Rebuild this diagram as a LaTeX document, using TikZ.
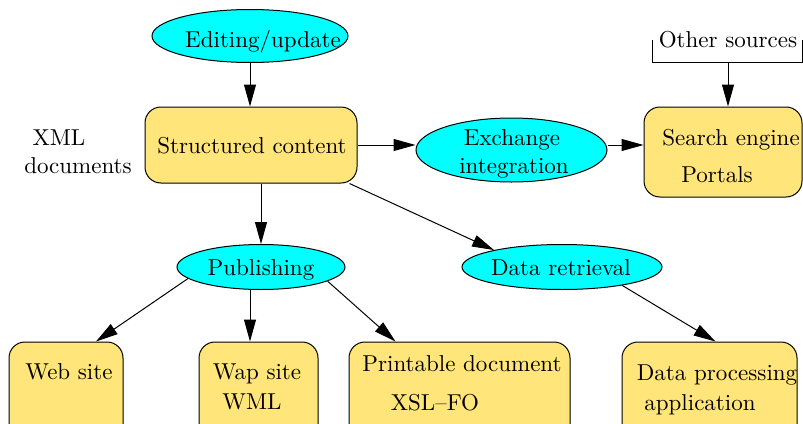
\documentclass[tikz,border=0pt]{standalone}
\usepackage{fontspec}
\newfontfamily\diagfont{lmroman10-regular.otf}[Ligatures=TeX]
\usetikzlibrary{shapes.geometric,arrows.meta}
\definecolor{boxyellow}{RGB}{255,229,122}
\definecolor{ellcyan}{RGB}{0,255,255}
\begin{document}
\begin{tikzpicture}[x=1pt,y=-1pt,
  box/.style={draw=black, line width=1pt, fill=boxyellow, rounded corners=16pt, inner sep=0pt},
  ell/.style={ellipse, draw=black, line width=1pt, fill=ellcyan, inner sep=0pt},
  txt/.style={anchor=base, inner sep=0pt, font=\diagfont\fontsize{23}{28}\selectfont},
  arr/.style={-{Triangle[length=22pt,width=12pt]}, line width=1pt}]
\useasboundingbox (0,0) rectangle (803,423);
\clip (0,0) rectangle (803,423);

% shapes
\node[ell, minimum width=196pt, minimum height=53pt] (edit) at (250,36) {};
\node[box, minimum width=212pt, minimum height=76pt] (sc) at (251,145) {};
\node[ell, minimum width=191pt, minimum height=64pt] (exch) at (511.5,150) {};
\node[box, minimum width=158pt, minimum height=90pt] (search) at (723,152) {};
\node[ell, minimum width=168pt, minimum height=45pt] (pub) at (261,267) {};
\node[ell, minimum width=200pt, minimum height=45pt] (dr) at (562,267) {};
\node[box, minimum width=114pt, minimum height=100pt] (web) at (66,392) {};
\node[box, minimum width=119pt, minimum height=100pt] (wap) at (258.5,392) {};
\node[box, minimum width=221pt, minimum height=100pt] (print) at (459.5,392) {};
\node[box, minimum width=175pt, minimum height=100pt] (dp) at (709.5,392) {};

% texts
\node[txt] (t-edit) at (263,47) {Editing/update};
\node[txt] (t-xml) at (59,145) {XML};
\node[txt] (t-doc) at (78,173) {documents};
\node[txt] (t-sc) at (252,153) {Structured content};
\node[txt] (t-exch1) at (512,145) {Exchange};
\node[txt] (t-exch2) at (514,173) {integration};
\node[txt] (t-os) at (728,47) {Other sources};
\node[txt] (t-se) at (731,145) {Search engine};
\node[txt] (t-portals) at (717,182) {Portals};
\node[txt] (t-pub) at (261,275) {Publishing};
\node[txt] (t-dr) at (561,275) {Data retrieval};
\node[txt] (t-web) at (69,379) {Web site};
\node[txt] (t-wap) at (257,379) {Wap site};
\node[txt] (t-wml) at (252,409) {WML};
\node[txt] (t-print) at (462,371) {Printable document};
\node[txt] (t-xsl) at (435,410) {XSL--FO};
\node[txt] (t-dp) at (717,380) {Data processing};
\node[txt] (t-app) at (700,410) {application};

% other sources bracket
\coordinate (osl) at (652,40);
\coordinate (oslb) at (652,62);
\coordinate (osrb) at (802,62);
\coordinate (osr) at (802,40);
\coordinate (osb) at (728,62);
\draw[line width=1pt] (osl) -- (oslb) -- (osrb) -- (osr);

% connectors
\draw[arr] (edit.south) -- (edit.south |- sc.north);
\draw[arr] (sc.east) -- (sc.east -| exch.west);
\draw[arr] (exch.east |- sc.east) -- (sc.east -| search.west);
\draw[arr] (osb) -- (osb |- search.north);
\draw[arr] (pub.north |- sc.south) -- (pub.north);
\draw[arr] ([xshift=-8pt]sc.south east) -- (dr.166);
\draw[arr] (pub.189) -- ([xshift=30pt]web.north);
\draw[arr] ([xshift=-11pt]pub.south) -- ([xshift=-11pt]pub.south |- wap.north);
\draw[arr] (pub.348) -- ([xshift=-64pt]print.north);
\draw[arr] (dr.343) -- ([xshift=6pt]dp.north);
\end{tikzpicture}
\end{document}
